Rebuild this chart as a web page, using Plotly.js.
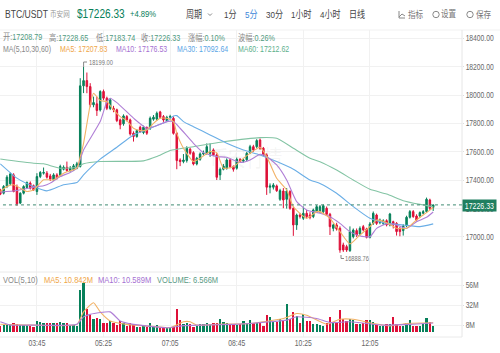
<!DOCTYPE html>
<html><head><meta charset="utf-8">
<script src="https://cdn.plot.ly/plotly-3.0.1.min.js"></script>
<style>html,body{margin:0;padding:0;background:#fff}#c{width:500px;height:353px}</style>
</head><body><div id="c"></div>
<script>
const open_=[17332,17309,17356,17375,17438,17356,17239,17309,17349,17380,17361,17321,17426,17450,17450,17431,17403,17438,17434,17478,17492,17469,17474,17485,17497,18066,18103,18061,17932,17939,17896,18026,17979,17906,17908,17897,17826,17798,17849,17826,17732,17709,17774,17737,17772,17767,17831,17831,17882,17849,17820,17845,17837,17731,17543,17532,17539,17619,17595,17515,17548,17586,17590,17590,17614,17579,17438,17478,17485,17543,17496,17485,17548,17535,17545,17595,17637,17637,17684,17626,17579,17351,17351,17360,17266,17324,17266,17320,17202,17085,17155,17132,17167,17155,17144,17179,17178,17178,17202,17160,17061,17085,17061,16944,16932,16904,17002,17045,17021,17073,17057,16998,17096,17155,17101,17096,17115,17085,17108,17096,17061,17045,17078,17139,17179,17148,17148,17167,17179,17261,17208.79];
const high_=[17340,17366,17436,17455,17450,17370,17315,17365,17392,17392,17370,17450,17465,17490,17465,17445,17450,17450,17510,17505,17532,17500,17515,17530,18120,18199,18160,18085,17990,17990,18035,18040,17990,17980,17925,17905,17835,17865,17860,17835,17745,17760,17785,17785,17780,17850,17860,17885,17890,17860,17855,17862,17850,17740,17555,17585,17640,17630,17605,17565,17597,17610,17660,17660,17625,17590,17490,17515,17555,17550,17505,17560,17556,17552,17600,17650,17650,17690,17695,17635,17590,17378,17380,17370,17340,17345,17345,17330,17215,17165,17170,17215,17190,17175,17200,17225,17225,17230,17215,17170,17095,17100,17075,16960,16945,17075,17060,17060,17075,17085,17065,17105,17180,17165,17130,17125,17125,17170,17115,17105,17070,17090,17150,17190,17190,17160,17180,17190,17278,17270,17228.65];
const low_=[17295,17300,17345,17365,17315,17220,17232,17300,17340,17335,17325,17297,17415,17440,17412,17395,17395,17405,17425,17470,17460,17460,17465,17478,17490,18015,18014,17915,17915,17854,17885,17965,17895,17895,17880,17810,17760,17785,17815,17715,17673,17700,17735,17725,17720,17755,17820,17820,17835,17812,17810,17835,17722,17478,17500,17520,17525,17580,17505,17505,17538,17575,17580,17565,17570,17402,17402,17470,17475,17485,17461,17475,17525,17525,17535,17585,17600,17625,17615,17570,17297,17308,17335,17318,17255,17203,17200,17192,17008,17050,17130,17120,17130,17125,17133,17170,17170,17165,17150,17014,17040,17045,16888.76,16895,16895,16895,16990,17000,17010,17040,16990,16990,17085,17085,17090,17085,17075,17075,17060,17010,17005,17010,17070,17130,17135,17110,17135,17160,17170,17190,17183.74];
const close_=[17302,17356,17422,17445,17321,17234,17309,17356,17384,17344,17332,17426,17455,17455,17422,17408,17438,17415,17497,17492,17469,17485,17502,17516,18066,18103,18061,17932,17948,17892,18026,17979,17908,17967,17897,17821,17791,17854,17826,17727,17709,17751,17744,17774,17732,17838,17845,17873,17845,17825,17844,17850,17731,17539,17532,17543,17626,17590,17515,17555,17586,17592,17637,17602,17579,17421,17478,17501,17543,17496,17478,17548,17532,17542,17590,17637,17614,17680,17626,17579,17351,17360,17367,17327,17327,17261,17324,17202,17085,17155,17144,17167,17144,17139,17191,17214,17214,17221,17160,17073,17085,17056,16908,16908,16908,17038,17049,17014,17061,17050,16998,17092,17167,17096,17120,17115,17085,17162,17085,17038,17038,17078,17139,17179,17144,17120,17172,17179,17266,17202,17226.33];
const volume=[7,8,9,9,11,9,8,8,8,7,6,13,12,10,10,10,10,10,12,10,10,8,8,7,50,59,28,20,15,16,15,11,11,13,11,8,13,10,7,10,9,6,6,7,6,10,7,8,5,4,4,5,6,28,14,9,10,9,6,7,9,9,11,9,11,11,15,12,10,9,9,8,9,13,10,14,11,11,11,7,20,18,12,12,15,14,34,15,24,19,11,21,13,13,9,9,8,7,11,18,11,11,26,15,13,15,14,9,9,10,14,14,12,8,7,7,9,9,18,9,7,7,10,14,7,7,7,9,17,12,6.566];
const maPriceIdx5=[0,2,4,6,8,10,13,16,19,23,24,25,27,28,30,32,34,36,38,40,42,44,46,48,50,52,53,55,58,60,63,65,67,70,73,75,78,80,83,86,88,92,95,96,99,102,105,108,111,113,116,119,122,125,128,130];
const ma5=[17321,17356,17368,17344,17321,17332,17403,17403,17450,17485,17567,17661,17932,18014,17962,17955,17896,17849,17821,17767,17751,17755,17802,17838,17838,17814,17731,17626,17532,17555,17602,17595,17485,17496,17555,17590,17633,17567,17414,17332,17214,17132,17179,17179,17132,17038,16951,17014,17073,17120,17101,17061,17061,17120,17172,17207.83];
const maPriceIdx10=[0,5,10,13,15,18,21,23,25,30,32,33,35,40,44,47,50,52,54,58,61,65,68,72,75,78,80,83,86,89,92,96,99,102,105,108,111,113,116,119,122,125,128,130];
const ma10=[17316,17328,17351,17361,17380,17426,17455,17485,17614,17814,17955,17979,17948,17838,17767,17786,17814,17814,17767,17661,17595,17567,17562,17525,17543,17583,17567,17508,17402,17250,17191,17167,17143,17096,17038,17007,17002,17061,17092,17085,17061,17108,17139,17176.53];
const maPriceIdx30=[0,5,10,14,19,23,25,30,35,40,45,50,52,53,55,58,63,68,73,78,83,88,93,96,101,106,111,116,121,126,130];
const ma30=[17516,17415,17356,17325,17368,17384,17438,17549,17633,17720,17767,17814,17854,17856,17814,17778,17720,17661,17614,17579,17532,17478,17402,17378,17308,17214,17132,17096,17085,17073,17092.64];
const maPriceIdx60=[0,10,13,18,23,25,30,43,47,51,58,67,78,83,88,93,96,101,106,111,116,121,126,130];
const ma60=[17550,17520,17516,17485,17492,17516,17532,17537,17567,17610,17637,17672,17701,17696,17626,17555,17531,17472,17402,17336,17303,17256,17230,17212.62];
const volIdx5=[0,10,23,25,28,30,33,38,47,51,55,57,59,65,75,85,89,92,98,102,106,112,117,122,130];
const volMa5=[9,8,8.9,24,35,24,13,8.9,6,4.8,12,12,8,8.9,10,16,22,20,9,15,15,10,7,10,10.842];
const volIdx10=[0,3,10,23,25,27,33,36,40,50,55,60,70,75,81,86,89,95,99,105,115,123,130];
const volMa10=[12,8,8,8.9,18,21,24,13,8.9,4.8,7.3,8,8.9,10,12,14,18,16,11,12,8,8.9,10.589];
const xTickIdx=[11,31,51,71,91,111];
const xTickText=['03:45','05:25','07:05','08:45','10:25','12:05'];
const priceTicks=[17000,17200,17400,17600,17800,18000,18200,18400];
const volTicks=[8,32,56];
const volTickText=['8M','32M','56M'];
const periods=['1分','5分','30分','1小时','4小时','日线'];
const lastPrice=17226.33;

const UP='#07805a',DOWN='#de1038',ORG='#f2b266',PUR='#b07fd6',BLU='#6aaee6',GRN='#83c4a4',GRID='#f1f1f1',GRAY='#666';
const idx=close_.map((_,i)=>i);
const FONT='"Liberation Sans","Noto Sans CJK SC",sans-serif';
const L=(x,y,c,yax)=>({type:'scatter',mode:'lines',x:x,y:y,yaxis:yax||'y',line:{color:c,width:1.1,shape:'spline',smoothing:.5},hoverinfo:'skip',showlegend:false});
const traces=[
 {type:'candlestick',x:idx,open:open_,high:high_,low:low_,close:close_,
  increasing:{line:{color:UP,width:1},fillcolor:UP},decreasing:{line:{color:DOWN,width:1},fillcolor:DOWN},
  whiskerwidth:0,hoverinfo:'skip',showlegend:false},
 L(maPriceIdx60,ma60,GRN),L(maPriceIdx30,ma30,BLU),L(maPriceIdx10,ma10,PUR),L(maPriceIdx5,ma5,ORG),
 {type:'bar',x:idx,y:volume,yaxis:'y2',width:.68,marker:{color:idx.map(i=>close_[i]>=open_[i]?UP:DOWN),line:{width:0}},hoverinfo:'skip',showlegend:false},
 L(volIdx5,volMa5,ORG,'y2'),L(volIdx10,volMa10,PUR,'y2')
];
const W=462,T=30,B=337,H=B-T;
const px=x=>x/W,py=y=>(B-y)/H;
const ann=[];
function txt(x,y,t,c,s,o){ann.push(Object.assign({xref:'paper',yref:'paper',x:px(x),y:py(y),text:t,showarrow:false,xanchor:'left',yanchor:'middle',align:'left',
 font:{family:FONT,size:s,color:c},borderpad:0,borderwidth:0},o||{}));}
txt(5,14,'BTC/USDT','#444',10.5);
txt(50,14,'币安网','#999',8);
txt(76.5,14.5,'$17226.33',UP,12.3);
txt(130,14.5,'+4.89%',UP,9.3);
txt(186,14.5,'周期','#444',9.8);
const px5=[224,245,266,291,320,349];
periods.forEach((p,i)=>txt(px5[i],14.5,p,i==1?'#3a86d8':'#444',9.8));
txt(408,14.5,'指标','#777',9.2);txt(441,14.5,'设置','#777',9.2);txt(476,14.5,'保存','#777',9.2);
const G='#4f9a80';
function kv(x,y,k,v){txt(x,y,'<span style="fill:#888">'+k+'</span>'+v,G,8.8);}
kv(3,37,'开:','17208.79');kv(49,37,'高:','17228.65');kv(96,37,'低:','17183.74');kv(141,37,'收:','17226.33');kv(188,37,'涨幅:','0.10%');kv(238,37,'波幅:','0.26%');
txt(3,49,'MA(5,10,30,60)','#888',8.5);
txt(60,49,'MA5: 17207.83','#efa648',8.5);
txt(116,49,'MA10: 17176.53','#a570d2',8.5);
txt(177,49,'MA30: 17092.64','#5aa5e6',8.5);
txt(238,49,'MA60: 17212.62','#5cb08c',8.5);
txt(3,280,'VOL(5,10)','#888',9.2);
txt(44,280,'MA5: 10.842M','#efa648',9.2);
txt(98,280,'MA10: 10.589M','#a570d2',9.2);
txt(157,280,'VOLUME: 6.566M','#5a9a84',9.2);
txt(89,62,'18199.00','#777',7);
txt(345,258.5,'16888.76','#777',7);
txt(210,158,'币安行情','rgba(150,150,150,.10)',22);
ann.push({xref:'paper',yref:'paper',x:px(462),y:py(205),xanchor:'left',yanchor:'middle',text:'17226.33',showarrow:false,
 font:{family:FONT,size:8.5,color:'#fff'},bgcolor:'#1f7f60',borderpad:1,width:31,height:9});
const sh=[];
function ln(x0,y0,x1,y1,c,w){sh.push({type:'line',xref:'paper',yref:'paper',x0:px(x0),y0:py(y0),x1:px(x1),y1:py(y1),line:{color:c,width:w||1}});}
ln(0,30,500,30,GRID);ln(0,272,462,272,'#eaeaea');ln(0,337,462,337,'#eaeaea');ln(462,30,462,337,'#e6e6e6');
sh.push({type:'line',xref:'x',yref:'y',x0:-1,x1:139,y0:lastPrice,y1:lastPrice,line:{color:'#3f8a72',width:1,dash:'3px,3px'}});
ln(83.6,67,83.6,62,'#888');ln(83.6,62,87,62,'#888');
ln(341,255,341,258.5,'#888');ln(341,258.5,344,258.5,'#888');
// toolbar icons
ln(399,11,399,18,'#888');ln(399,18,405,18,'#888');ln(399,17,402,14,'#888');ln(402,14,405,16,'#888');
[[436,14.5],[470,14.5]].forEach(c=>sh.push({type:'circle',xref:'paper',yref:'paper',x0:px(c[0]-3.2),x1:px(c[0]+3.2),y0:py(c[1]-3.2),y1:py(c[1]+3.2),line:{color:'#888',width:1}}));
ln(208,13.5,210,15.5,'#888');ln(210,15.5,212,13.5,'#888');
const layout={width:500,height:353,margin:{l:0,r:38,t:30,b:16,pad:0},paper_bgcolor:'#fff',plot_bgcolor:'#fff',showlegend:false,boxgap:.35,bargap:0,
 font:{family:FONT,color:GRAY},
 xaxis:{type:'linear',range:[-.09,138.65],anchor:'y2',tickvals:xTickIdx,ticktext:xTickText,tickfont:{size:8.3,color:GRAY},showgrid:true,gridcolor:GRID,gridwidth:1,zeroline:false,showline:false,ticks:'',ticklen:0,rangeslider:{visible:false},fixedrange:true},
 yaxis:{domain:[.2117,1],range:[16753,18460],side:'right',tickvals:priceTicks,tickformat:'.2f',tickfont:{size:8.2,color:GRAY},gridcolor:GRID,zeroline:false,ticks:'outside',ticklen:1,tickcolor:'#ddd',fixedrange:true},
 yaxis2:{domain:[0,.2117],range:[-6.4,72.2],side:'right',tickvals:volTicks,ticktext:volTickText,tickfont:{size:8.2,color:GRAY},gridcolor:GRID,zeroline:false,ticks:'outside',ticklen:1,tickcolor:'#ddd',fixedrange:true},
 annotations:ann,shapes:sh};
Plotly.newPlot('c',traces,layout,{staticPlot:true,displayModeBar:false}).then(()=>{
 // the reference's lettering is horizontally condensed
 document.querySelectorAll('#c svg text').forEach(t=>{
  const w=t.getComputedTextLength();
  if(w>0){t.setAttribute('textLength',(w*0.82).toFixed(1));t.setAttribute('lengthAdjust','spacingAndGlyphs');}
 });
});
</script></body></html>
